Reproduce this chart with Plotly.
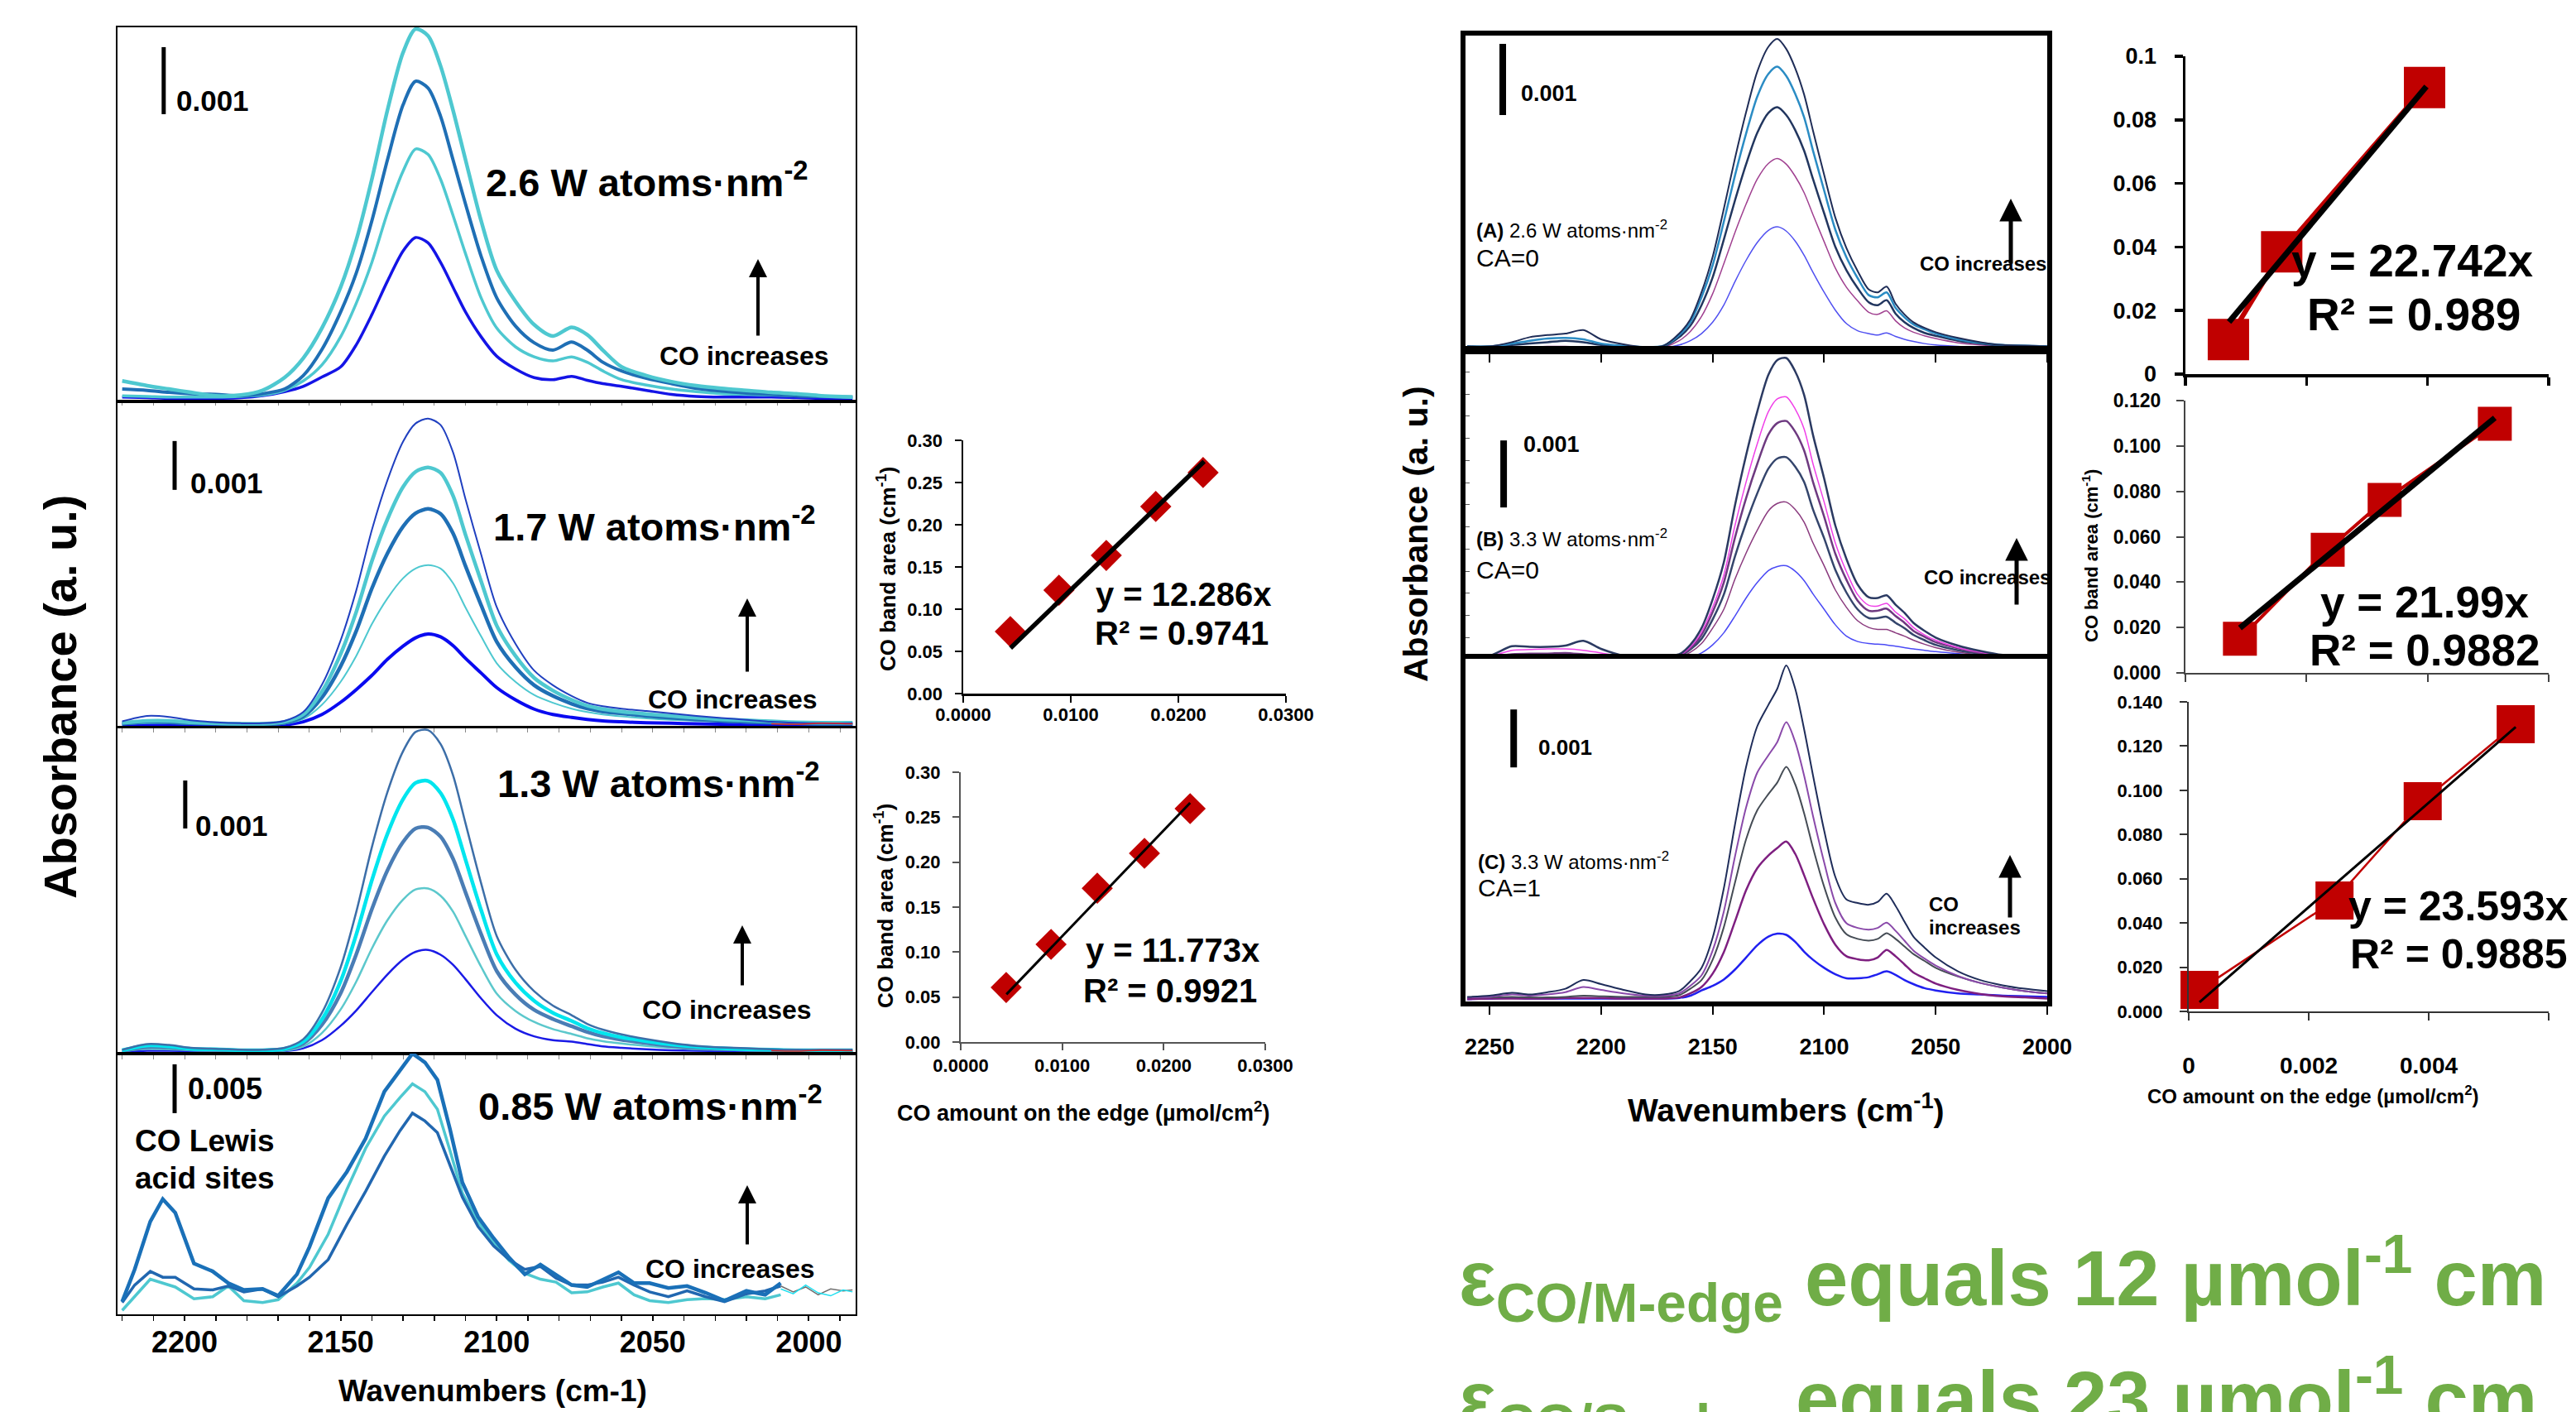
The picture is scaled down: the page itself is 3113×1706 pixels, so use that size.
import plotly.graph_objects as go

W, H = 3113, 1706
FONT = "Arial, 'Liberation Sans', Helvetica, sans-serif"

# ---------------- DATA ----------------
# Left spectra: wavenumbers (cm-1) and absorbance in units of 0.001
wn_left = [2220, 2212, 2205, 2198, 2190, 2182, 2175, 2168, 2162, 2156, 2150, 2145, 2140, 2135,
           2130, 2126, 2122, 2118, 2114, 2110, 2105, 2100, 2094, 2088, 2082, 2076, 2071, 2066,
           2060, 2052, 2044, 2036, 2028, 2020, 2012, 2004, 1996, 1986]

w26_1 = [.28, .21, .16, .11, .06, .07, .14, .33, .62, 1.07, 1.68, 2.38, 3.29, 4.32, 5.18, 5.53, 5.43, 4.98,
         4.32, 3.58, 2.67, 1.93, 1.47, 1.12, .95, 1.08, .97, .74, .49, .36, .27, .21, .17, .14, .11, .09, .06, .04]
w26_2 = [.16, .14, .11, .09, .08, .06, .09, .16, .36, .75, 1.31, 1.89, 2.67, 3.58, 4.40, 4.75, 4.65, 4.23,
         3.58, 2.92, 2.14, 1.52, 1.10, .85, .74, .86, .74, .56, .43, .32, .24, .17, .13, .10, .08, .06, .05, .04]
w26_3 = [.06, .05, .04, .04, .04, .05, .07, .14, .28, .52, .94, 1.44, 2.05, 2.79, 3.41, 3.74, 3.66, 3.29,
         2.75, 2.18, 1.52, 1.07, .79, .64, .58, .64, .56, .43, .30, .22, .16, .12, .09, .08, .07, .06, .05, .04]
w26_4 = [.04, .03, .02, .02, .02, .03, .06, .12, .20, .34, .49, .82, 1.27, 1.77, 2.22, 2.42, 2.34, 2.05,
         1.68, 1.31, .94, .65, .46, .33, .30, .35, .29, .24, .20, .14, .08, .05, .04, .04, .04, .03, .02, .02]

w17_1 = [.11, .22, .20, .13, .09, .07, .07, .12, .30, .86, 1.77, 2.79, 4.03, 5.05, 5.84, 6.21, 6.31, 6.18,
         5.62, 4.66, 3.53, 2.45, 1.70, 1.15, .85, .63, .49, .42, .37, .32, .27, .22, .18, .14, .10, .08, .07, .07]
w17_2 = [.08, .12, .12, .09, .07, .06, .06, .10, .25, .72, 1.49, 2.35, 3.39, 4.25, 4.91, 5.22, 5.31, 5.20,
         4.73, 3.93, 2.98, 2.07, 1.45, 1.00, .74, .55, .43, .36, .31, .26, .22, .18, .15, .13, .11, .09, .08, .08]
w17_3 = [.06, .10, .09, .07, .06, .05, .05, .08, .21, .60, 1.24, 1.96, 2.83, 3.55, 4.10, 4.37, 4.46, 4.36,
         3.96, 3.29, 2.49, 1.74, 1.22, .85, .63, .47, .37, .31, .27, .22, .18, .15, .12, .10, .08, .07, .06, .06]
w17_4 = [.05, .07, .07, .06, .05, .04, .04, .06, .16, .45, .92, 1.45, 2.10, 2.63, 3.04, 3.24, 3.31, 3.24,
         2.94, 2.44, 1.85, 1.30, .92, .65, .49, .37, .30, .25, .21, .17, .14, .12, .10, .08, .07, .06, .05, .05]
w17_5 = [.05, .05, .05, .04, .04, .03, .03, .04, .10, .25, .50, .76, 1.05, 1.38, 1.65, 1.82, 1.90, 1.84,
         1.66, 1.40, 1.10, .80, .55, .36, .25, .19, .15, .12, .10, .08, .07, .06, .05, .05, .04, .04, .04, .04]

w13_1 = [.08, .20, .18, .12, .10, .08, .08, .12, .30, .85, 1.80, 2.95, 4.30, 5.45, 6.30, 6.70, 6.74, 6.45,
         5.80, 4.80, 3.55, 2.45, 1.75, 1.30, 1.00, .80, .62, .50, .40, .30, .22, .16, .13, .11, .09, .08, .08, .08]
w13_2 = [.07, .17, .15, .10, .09, .07, .07, .10, .25, .71, 1.51, 2.48, 3.61, 4.58, 5.30, 5.64, 5.68, 5.43,
         4.88, 4.04, 2.99, 2.07, 1.48, 1.10, .85, .68, .53, .43, .34, .26, .19, .14, .11, .09, .08, .07, .07, .07]
w13_3 = [.06, .14, .13, .09, .08, .06, .06, .09, .21, .60, 1.26, 2.07, 3.01, 3.82, 4.41, 4.69, 4.71, 4.52,
         4.06, 3.36, 2.49, 1.72, 1.23, .91, .72, .57, .45, .36, .29, .22, .16, .12, .10, .08, .07, .06, .06, .06]
w13_4 = [.05, .10, .09, .07, .06, .05, .05, .06, .15, .43, .92, 1.50, 2.19, 2.78, 3.21, 3.42, 3.44, 3.29,
         2.96, 2.45, 1.81, 1.25, .89, .66, .51, .41, .32, .26, .21, .16, .12, .09, .08, .07, .06, .05, .05, .05]
w13_5 = [.04, .06, .06, .05, .05, .04, .04, .05, .11, .28, .58, .90, 1.28, 1.65, 1.96, 2.12, 2.16, 2.06,
         1.85, 1.55, 1.15, .80, .52, .36, .28, .25, .20, .15, .12, .09, .07, .06, .05, .05, .04, .04, .04, .04]

wn_red_tail = [2012, 2004, 1996, 1986]
red_tail = [.06, .05, .07, .06]

wn_085 = [2220, 2216, 2211, 2207, 2203, 2197, 2191, 2186, 2181, 2175, 2170, 2164, 2160, 2154, 2148, 2142,
          2136, 2131, 2127, 2123, 2119, 2115, 2111, 2106, 2101, 2096, 2091, 2086, 2081, 2076, 2071, 2066,
          2061, 2056, 2051, 2045, 2039, 2033, 2027, 2020, 2014, 2009]
w085_1 = [1.3, 4.6, 9.5, 11.8, 10.4, 5.2, 4.4, 3.2, 2.5, 2.6, 1.9, 4.1, 6.9, 11.9, 14.6, 18.0, 22.8, 25.0,
          26.7, 25.8, 24.0, 19.0, 13.5, 10.0, 7.8, 5.8, 4.1, 5.1, 4.0, 3.0, 2.8, 3.6, 4.3, 3.2, 3.2, 2.7,
          2.9, 2.2, 1.4, 2.4, 2.0, 3.2]
w085_2 = [0.4, 1.8, 3.6, 3.2, 2.8, 1.6, 1.8, 2.9, 1.4, 1.2, 1.5, 3.2, 4.8, 8.2, 12.8, 17.0, 20.3, 22.2,
          23.6, 22.8, 21.0, 16.8, 12.4, 9.5, 7.3, 5.5, 4.2, 3.6, 3.3, 2.2, 2.3, 2.8, 3.2, 2.0, 1.4, 1.2,
          1.5, 1.6, 1.5, 1.8, 1.6, 2.0]
w085_3 = [1.2, 3.0, 4.4, 3.8, 3.8, 2.6, 2.5, 2.9, 2.3, 2.6, 1.8, 2.9, 3.8, 5.6, 9.2, 12.6, 16.2, 18.8,
          20.6, 19.8, 18.6, 15.3, 12.0, 9.0, 7.0, 5.6, 4.6, 4.9, 3.7, 3.0, 3.0, 3.3, 3.8, 3.0, 2.3, 1.8,
          2.4, 1.8, 1.3, 2.1, 2.4, 2.9]
wn_085_tail = [2009, 2005, 2001, 1997, 1993, 1989, 1986]
w085_tail_gray = [2.9, 2.3, 2.8, 2.0, 2.6, 2.4, 2.5]
w085_tail_cyan = [2.6, 2.1, 3.0, 2.2, 1.9, 2.5, 2.3]

# Right spectra
wn_right = [2260, 2250, 2240, 2232, 2224, 2216, 2208, 2200, 2190, 2180, 2172, 2165, 2160, 2155, 2150,
            2145, 2140, 2135, 2130, 2125, 2121, 2117, 2113, 2109, 2105, 2100, 2095, 2090, 2085, 2080,
            2076, 2072, 2068, 2064, 2060, 2055, 2050, 2040, 2030, 2020, 2010, 2000]

A1 = [.04, .04, .10, .17, .20, .22, .27, .14, .07, .03, .05, .22, .42, .80, 1.30, 1.97, 2.68, 3.33, 3.90, 4.25,
      4.36, 4.22, 3.95, 3.58, 3.07, 2.45, 1.85, 1.42, 1.10, .84, .80, .88, .64, .49, .38, .30, .24, .16, .10, .06, .05, .04]
A2 = [.04, .04, .08, .12, .15, .16, .14, .08, .05, .03, .05, .20, .38, .73, 1.18, 1.79, 2.44, 3.03, 3.55, 3.87,
      3.97, 3.84, 3.59, 3.26, 2.79, 2.23, 1.68, 1.29, 1.00, .76, .73, .80, .58, .45, .35, .28, .22, .14, .09, .06, .05, .04]
A3 = [.04, .04, .06, .08, .10, .12, .10, .06, .04, .03, .04, .17, .33, .62, 1.01, 1.54, 2.09, 2.60, 3.04, 3.32,
      3.40, 3.29, 3.08, 2.79, 2.39, 1.91, 1.44, 1.11, .86, .66, .62, .69, .50, .38, .30, .23, .19, .12, .08, .05, .05, .04]
A4 = [.02, .02, .02, .03, .04, .04, .03, .02, .02, .02, .03, .12, .25, .46, .78, 1.20, 1.64, 2.04, 2.39, 2.61,
      2.68, 2.60, 2.43, 2.20, 1.89, 1.51, 1.14, .87, .68, .52, .49, .54, .40, .30, .24, .19, .15, .09, .06, .04, .03, .02]
A5 = [.02, .02, .02, .02, .02, .02, .02, .02, .02, .01, .02, .06, .12, .22, .38, .62, .95, 1.25, 1.50, 1.67,
      1.72, 1.66, 1.52, 1.32, 1.08, .80, .55, .36, .26, .22, .20, .23, .18, .14, .11, .08, .06, .04, .03, .02, .02, .02]

B1 = [.04, .06, .20, .19, .19, .21, .28, .16, .06, .05, .06, .08, .22, .47, .90, 1.45, 2.30, 3.05, 3.70, 4.25,
      4.47, 4.50, 4.30, 3.95, 3.35, 2.70, 2.00, 1.50, 1.12, .93, .92, .96, .82, .70, .55, .43, .33, .21, .13, .07, .05, .05]
B2 = [.04, .05, .14, .15, .16, .16, .14, .10, .05, .04, .05, .07, .19, .41, .78, 1.26, 2.00, 2.65, 3.22, 3.70,
      3.89, 3.92, 3.74, 3.44, 2.92, 2.35, 1.74, 1.31, .97, .81, .80, .84, .71, .61, .48, .37, .29, .18, .11, .06, .05, .04]
B3 = [.03, .04, .08, .09, .09, .10, .08, .06, .04, .04, .05, .06, .17, .37, .71, 1.15, 1.82, 2.41, 2.92, 3.36,
      3.53, 3.56, 3.40, 3.12, 2.65, 2.13, 1.58, 1.19, .88, .73, .73, .76, .65, .55, .43, .34, .26, .17, .10, .06, .04, .04]
B4 = [.03, .03, .05, .06, .06, .06, .05, .04, .03, .03, .04, .05, .15, .31, .60, .97, 1.54, 2.04, 2.48, 2.85,
      3.00, 3.02, 2.88, 2.65, 2.24, 1.81, 1.34, 1.00, .75, .62, .62, .64, .55, .47, .37, .29, .22, .14, .09, .05, .04, .03]
B5 = [.02, .02, .03, .03, .03, .03, .03, .02, .02, .02, .03, .04, .11, .24, .47, .75, 1.20, 1.59, 1.93, 2.22,
      2.33, 2.35, 2.24, 2.05, 1.74, 1.40, 1.04, .78, .58, .48, .45, .45, .40, .35, .29, .23, .18, .11, .07, .04, .03, .02]
B6 = [.02, .02, .02, .02, .02, .02, .02, .02, .02, .01, .01, .01, .04, .10, .22, .40, .65, .92, 1.15, 1.33,
      1.39, 1.40, 1.32, 1.18, .98, .75, .52, .35, .27, .24, .23, .22, .20, .18, .16, .14, .12, .09, .06, .04, .03, .02]

C1 = [.08, .10, .15, .12, .16, .22, .37, .30, .20, .12, .12, .18, .35, .58, 1.10, 1.95, 3.05, 4.05, 4.75, 5.12,
      5.40, 5.80, 5.40, 4.70, 3.90, 2.95, 2.15, 1.76, 1.70, 1.67, 1.72, 1.86, 1.65, 1.38, 1.12, .93, .76, .52, .37, .28, .22, .18]
C2 = [.07, .08, .12, .10, .12, .16, .25, .20, .14, .10, .10, .14, .27, .45, .88, 1.55, 2.50, 3.35, 3.95, 4.25,
      4.48, 4.82, 4.48, 3.90, 3.20, 2.40, 1.70, 1.35, 1.27, 1.24, 1.27, 1.36, 1.22, 1.05, .88, .74, .62, .44, .32, .24, .18, .14]
C3 = [.07, .07, .08, .07, .07, .08, .10, .09, .08, .08, .08, .11, .22, .37, .72, 1.28, 2.05, 2.80, 3.30, 3.58,
      3.78, 4.05, 3.75, 3.25, 2.65, 1.98, 1.45, 1.16, 1.08, 1.05, 1.08, 1.18, 1.08, .95, .82, .70, .58, .43, .32, .24, .18, .14]
C4 = [.04, .05, .05, .05, .05, .06, .06, .06, .05, .05, .05, .07, .14, .25, .48, .85, 1.38, 1.92, 2.30, 2.52,
      2.65, 2.76, 2.55, 2.18, 1.78, 1.33, .98, .78, .73, .71, .76, .89, .78, .64, .50, .40, .31, .20, .13, .09, .07, .05]
C5 = [.04, .05, .06, .05, .05, .05, .05, .05, .05, .05, .05, .06, .10, .19, .27, .38, .55, .76, .97, 1.12,
      1.17, 1.15, 1.03, .86, .72, .58, .47, .40, .40, .42, .47, .52, .46, .37, .30, .23, .19, .14, .12, .10, .09, .08]

# Calibration plots: CO amount on the edge (umol/cm2) vs CO band area (cm-1)
m1_x = [0.00438, 0.0089, 0.0133, 0.0179, 0.0223]
m1_y = [0.0735, 0.1225, 0.1637, 0.2216, 0.2618]
m1_fit_x = [0.0044, 0.0224]
m1_fit_y = [0.054, 0.275]
m2_x = [0.00448, 0.0089, 0.01345, 0.0181, 0.0226]
m2_y = [0.0607, 0.1086, 0.171, 0.2098, 0.2595]
m2_fit_x = [0.0045, 0.0226]
m2_fit_y = [0.053, 0.266]
r1_x = [0.00071, 0.00159, 0.00395]
r1_y = [0.0109, 0.0385, 0.0902]
r1_fit_x = [0.00072, 0.00398]
r1_fit_y = [0.0164, 0.0905]
r2_x = [0.0009, 0.00235, 0.00329, 0.00511]
r2_y = [0.015, 0.0543, 0.0762, 0.1098]
r2_fit_x = [0.0009, 0.00511]
r2_fit_y = [0.0198, 0.1124]
r3_x = [0.00018, 0.00243, 0.0039, 0.00545]
r3_y = [0.0097, 0.0502, 0.0951, 0.1299]
r3_fit_x = [0.00018, 0.00545]
r3_fit_y = [0.0042, 0.1286]


# ---------------- HELPERS ----------------
def fx(p):
    return p / W


def fy(p):
    return 1 - p / H


fig = go.Figure()


def spec(xs, ys, ax, color, width, shape='spline'):
    fig.add_trace(go.Scatter(x=xs, y=ys, mode='lines', xaxis='x' + ax, yaxis='y' + ax,
                             line=dict(color=color, width=width, shape=shape, smoothing=0.8),
                             hoverinfo='skip'))


CYAN = '#4EC8D0'
STEEL = '#1F6FB5'
BLUE = '#1414E6'

# panel 1 (2.6 W)
spec(wn_left, w26_4, '1', BLUE, 3.5)
spec(wn_left, w26_3, '1', CYAN, 3.5)
spec(wn_left, w26_2, '1', STEEL, 4)
spec(wn_left, w26_1, '1', CYAN, 4.5)
# panel 2 (1.7 W)
spec(wn_left, w17_5, '2', '#0A0AF0', 4)
spec(wn_left, w17_4, '2', CYAN, 2)
spec(wn_left, w17_3, '2', STEEL, 4.5)
spec(wn_left, w17_2, '2', CYAN, 4.5)
spec(wn_left, w17_1, '2', '#2040C0', 2)
spec(wn_red_tail, red_tail, '2', '#E02020', 1.5)
# panel 3 (1.3 W)
spec(wn_left, w13_5, '3', '#1A1AE6', 2.5)
spec(wn_left, w13_4, '3', '#5CC8CC', 2.5)
spec(wn_left, w13_3, '3', '#4A7DB5', 4.5)
spec(wn_left, w13_2, '3', '#00E5EE', 4.5)
spec(wn_left, w13_1, '3', '#3C6EA8', 2.5)
spec(wn_red_tail, red_tail, '3', '#E02020', 1.5)
# panel 4 (0.85 W)
spec(wn_085, w085_2, '4', CYAN, 3.5, 'linear')
spec(wn_085, w085_3, '4', '#2167B0', 3.5, 'linear')
spec(wn_085, w085_1, '4', '#1A70B8', 4.5, 'linear')
spec(wn_085_tail, w085_tail_gray, '4', '#707070', 1.5, 'linear')
spec(wn_085_tail, w085_tail_cyan, '4', '#20E0F0', 1.5, 'linear')

# right panels
for ys, col, wd in [(A5, '#5050F0', 1.5), (A4, '#A04090', 1.5), (A3, '#22365F', 2.5),
                    (A2, '#2B8CC4', 2.5), (A1, '#1F2D57', 2)]:
    spec(wn_right, ys, '5', col, wd)
for ys, col, wd in [(B6, '#4A4AF5', 1.5), (B5, '#8A3A7E', 1.5), (B4, '#34456C', 2.5),
                    (B3, '#6E3A80', 2.5), (B2, '#F040E8', 1.5), (B1, '#2B3A62', 2.5)]:
    spec(wn_right, ys, '6', col, wd)
for ys, col, wd in [(C5, '#2020F0', 2.5), (C4, '#7E1F80', 2.5), (C3, '#454C55', 2),
                    (C2, '#8A4AAA', 2), (C1, '#1F2D5A', 2)]:
    spec(wn_right, ys, '7', col, wd)

RED = '#C00000'


def calib(xs, ys, fxs, fys, ax, symbol, msize, redw, blackw):
    fig.add_trace(go.Scatter(x=xs, y=ys, xaxis='x' + ax, yaxis='y' + ax,
                             mode='lines+markers' if redw > 0 else 'markers',
                             line=dict(color=RED, width=max(redw, 0.1)),
                             marker=dict(symbol=symbol, size=msize, color=RED, line=dict(width=0)),
                             cliponaxis=False, hoverinfo='skip'))
    fig.add_trace(go.Scatter(x=fxs, y=fys, xaxis='x' + ax, yaxis='y' + ax, mode='lines',
                             line=dict(color='black', width=blackw), cliponaxis=False, hoverinfo='skip'))


calib(m1_x, m1_y, m1_fit_x, m1_fit_y, '8', 'diamond', 29, 0, 5.5)
calib(m2_x, m2_y, m2_fit_x, m2_fit_y, '9', 'diamond', 29, 0, 3)
calib(r1_x, r1_y, r1_fit_x, r1_fit_y, '10', 'square', 50, 6, 7)
calib(r2_x, r2_y, r2_fit_x, r2_fit_y, '11', 'square', 41, 4, 7)
calib(r3_x, r3_y, r3_fit_x, r3_fit_y, '12', 'square', 46, 2.5, 3)

# ---------------- LAYOUT ----------------
layout = dict(width=W, height=H, margin=dict(l=0, r=0, t=0, b=0, autoexpand=False), autosize=False,
              paper_bgcolor='white', plot_bgcolor='white', showlegend=False,
              font=dict(family=FONT, color='black'))

BASE = dict(showgrid=False, zeroline=False, automargin=False)

# left spectra panels: (top px, bottom px, px per 0.001)
left_panels = [(33, 483, 81), (487, 878, 59), (879, 1273, 58), (1273, 1588, 11.8)]
for i, (top, bot, ppu) in enumerate(left_panels, start=1):
    xa = dict(BASE, domain=[fx(142), fx(1034)], range=[2221.5, 1985], anchor='y%d' % i,
              showline=True, mirror=True, linecolor='black', linewidth=2)
    if i < 4:
        xa.update(ticks='outside', dtick=10, tick0=2000, ticklen=5, tickwidth=1, tickcolor='#888',
                  showticklabels=False)
    else:
        xa.update(ticks='outside', dtick=50, tick0=2000, ticklen=6, tickwidth=2, tickcolor='black',
                  minor=dict(dtick=10, tick0=2000, ticks='outside', ticklen=6, tickwidth=1.5,
                             tickcolor='black'),
                  tickfont=dict(size=36, family=FONT, weight='bold'), ticklabelstandoff=-5)
    ya = dict(BASE, domain=[fy(bot), fy(top)], range=[0, (bot - top) / ppu], anchor='x%d' % i,
              showline=True, mirror=True, linecolor='black', linewidth=2, ticks='',
              showticklabels=False)
    layout['xaxis%d' % i] = xa
    layout['yaxis%d' % i] = ya

right_panels = [(43, 422, 86), (424, 797, 81), (796, 1210, 70)]
for j, (top, bot, ppu) in enumerate(right_panels, start=5):
    xa = dict(BASE, domain=[fx(1771), fx(2474)], range=[2260.8, 2000], anchor='y%d' % j,
              showline=True, mirror=True, linecolor='black', linewidth=6,
              ticks='outside', dtick=50, tick0=2000, ticklen=10, tickwidth=2, tickcolor='black',
              showticklabels=(j == 7), tickfont=dict(size=27, family=FONT, weight='bold'),
              ticklabelstandoff=16)
    ya = dict(BASE, domain=[fy(bot), fy(top)], range=[0, (bot - top) / ppu], anchor='x%d' % j,
              showline=True, mirror=True, linecolor='black', linewidth=6, showticklabels=False)
    if j == 6:
        ya.update(ticks='inside', dtick=0.33, ticklen=5, tickwidth=1, tickcolor='#555')
    else:
        ya.update(ticks='')
    layout['xaxis%d' % j] = xa
    layout['yaxis%d' % j] = ya


def calib_axes(k, xdom, ydom, xr, yr, xdt, ydt, xfmt, yfmt, xsize, ysize, lc, lw, tl, showx,
               xstand, ystand):
    layout['xaxis%d' % k] = dict(BASE, domain=xdom, range=xr, anchor='y%d' % k, showline=True,
                                 linecolor=lc, linewidth=lw, ticks='outside', ticklen=tl,
                                 tickwidth=lw, tickcolor=lc, dtick=xdt, tick0=0, tickformat=xfmt,
                                 showticklabels=showx, ticklabelstandoff=xstand,
                                 tickfont=dict(size=xsize, family=FONT, weight='bold'))
    layout['yaxis%d' % k] = dict(BASE, domain=ydom, range=yr, anchor='x%d' % k, showline=True,
                                 linecolor=lc, linewidth=lw, ticks='outside', ticklen=tl,
                                 tickwidth=lw, tickcolor=lc, dtick=ydt, tick0=0, tickformat=yfmt,
                                 ticklabelstandoff=ystand,
                                 tickfont=dict(size=ysize, family=FONT, weight='bold'))


calib_axes(8, [fx(1164), fx(1554)], [fy(838), fy(532)], [0, 0.03], [0, 0.30], 0.01, 0.05,
           '.4f', '.2f', 22, 22, 'black', 2.5, 8, True, -4, 10)
calib_axes(9, [fx(1161), fx(1529)], [fy(1259), fy(933)], [0, 0.03], [0, 0.30], 0.01, 0.05,
           '.4f', '.2f', 22, 22, '#555', 2, 8, True, 0, 10)
calib_axes(10, [fx(2641), fx(3080)], [fy(452), fy(68)], [0, 0.006], [0, 0.1], 0.002, 0.02,
           '', '', 27, 27, 'black', 3.5, 10, False, 10, 16)
calib_axes(11, [fx(2641), fx(3080)], [fy(813), fy(484)], [0, 0.006], [0, 0.12], 0.002, 0.02,
           '', '.3f', 23, 23, '#444', 2, 9, False, 10, 14)
calib_axes(12, [fx(2645), fx(3080)], [fy(1222), fy(848)], [0, 0.006], [0, 0.14], 0.002, 0.02,
           '', '.3f', 28, 22, '#333', 2, 9, True, 30, 16)

# scale bars (drawn in each panel's own data units: 1 unit = 0.001)
shapes = []
for ax, xw, y0, y1, wd in [('1', 2206.7, 4.26, 5.26, 5), ('2', 2203.2, 4.85, 5.85, 5),
                           ('3', 2199.8, 4.69, 5.69, 5), ('4', 2203.2, 20.6, 25.6, 5),
                           ('5', 2244.1, 3.29, 4.29, 8), ('6', 2243.7, 2.27, 3.27, 8),
                           ('7', 2239.2, 4.04, 5.04, 8)]:
    shapes.append(dict(type='line', xref='x' + ax, yref='y' + ax, x0=xw, x1=xw, y0=y0, y1=y1,
                       line=dict(color='black', width=wd)))
layout['shapes'] = shapes

ann = []


def txt(s, x, y, size, bold=True, xanchor='center', yanchor='middle', angle=0, color='black'):
    ann.append(dict(text=s, x=fx(x), y=fy(y), xref='paper', yref='paper', showarrow=False,
                    xanchor=xanchor, yanchor=yanchor, textangle=angle,
                    font=dict(size=size, family=FONT, color=color,
                              weight='bold' if bold else 'normal')))


def arrow(x, ytail, yhead, width):
    ann.append(dict(text='', x=fx(x), y=fy(yhead), xref='paper', yref='paper', showarrow=True,
                    ax=0, ay=ytail - yhead, arrowhead=2, arrowsize=1.1, arrowwidth=width,
                    arrowcolor='black', standoff=0))


NM = ' W atoms·nm<sup>-2</sup>'
# left spectra labels
txt('0.001', 257, 122, 35)
txt('2.6' + NM, 782, 217, 47)
txt('CO increases', 899, 430, 32)
arrow(916, 407, 313, 4)
txt('0.001', 274, 583, 35)
txt('1.7' + NM, 791, 633, 47)
txt('CO increases', 886, 845, 32)
arrow(903, 813, 723, 4)
txt('1.3' + NM, 796, 943, 47)
txt('0.001', 280, 997, 35)
txt('CO increases', 878, 1220, 32)
arrow(897, 1192, 1118, 4)
txt('0.005', 272, 1315, 36)
txt('0.85' + NM, 786, 1333, 47)
txt('CO Lewis', 247, 1378, 37)
txt('acid sites', 247, 1423, 37)
txt('CO increases', 882, 1533, 32)
arrow(903, 1505, 1432, 4)
txt('Absorbance (a. u.)', 73, 842, 56, angle=-90)
txt('Wavenumbers (cm-1)', 595, 1680, 37)

# right spectra labels
txt('0.001', 1872, 113, 27)
txt('<b>(A)</b> 2.6' + NM, 1782, 277, 24, bold=False, xanchor='left')
txt('CA=0', 1782, 312, 30, bold=False, xanchor='left')
txt('CO increases', 2396, 318, 24)
arrow(2430, 320, 240, 5)
txt('0.001', 1875, 537, 27)
txt('<b>(B)</b> 3.3' + NM, 1782, 650, 24, bold=False, xanchor='left')
txt('CA=0', 1782, 688, 30, bold=False, xanchor='left')
txt('CO increases', 2401, 698, 24)
arrow(2437, 732, 650, 5)
txt('0.001', 1891, 903, 26)
txt('<b>(C)</b> 3.3' + NM, 1784, 1040, 24, bold=False, xanchor='left')
txt('CA=1', 1784, 1072, 30, bold=False, xanchor='left')
txt('CO', 2329, 1092, 24, xanchor='left')
txt('increases', 2329, 1120, 24, xanchor='left')
arrow(2429, 1110, 1033, 5)
txt('Absorbance (a. u.)', 1711, 645, 41, angle=-90)
txt('Wavenumbers (cm<sup>-1</sup>)', 2158, 1338, 39)

# calibration labels
BAND = 'CO band area (cm<sup>-1</sup>)'
AMT = 'CO amount on the edge (µmol/cm<sup>2</sup>)'
txt(BAND, 1071, 688, 26, angle=-90)
txt('y = 12.286x', 1430, 718, 40)
txt('R² = 0.9741', 1428, 765, 40)
txt(BAND, 1068, 1095, 26, angle=-90)
txt('y = 11.773x', 1417, 1148, 40)
txt('R² = 0.9921', 1414, 1197, 40)
txt(AMT, 1309, 1343, 27)
txt('y = 22.742x', 2915, 315, 55)
txt('R² = 0.989', 2917, 380, 55)
txt(BAND, 2526, 672, 22, angle=-90)
txt('y = 21.99x', 2930, 727, 53)
txt('R² = 0.9882', 2930, 785, 53)
txt('y = 23.593x', 2971, 1095, 50)
txt('R² = 0.9885', 2971, 1153, 50)
txt(AMT, 2795, 1323, 24)

GREEN = '#70AD47'
txt('ε<sub>CO/M-edge</sub> equals 12 µmol<sup>-1</sup> cm', 1761, 1544, 94, xanchor='left', color=GREEN)
txt('ε<sub>CO/S-edge</sub> equals 23 µmol<sup>-1</sup> cm', 1761, 1622, 94, xanchor='left',
    yanchor='top', color=GREEN)

layout['annotations'] = ann
fig.update_layout(**layout)
fig.write_html('out.html', config={'displayModeBar': False, 'staticPlot': True},
               post_script="document.body.style.margin='0';")
